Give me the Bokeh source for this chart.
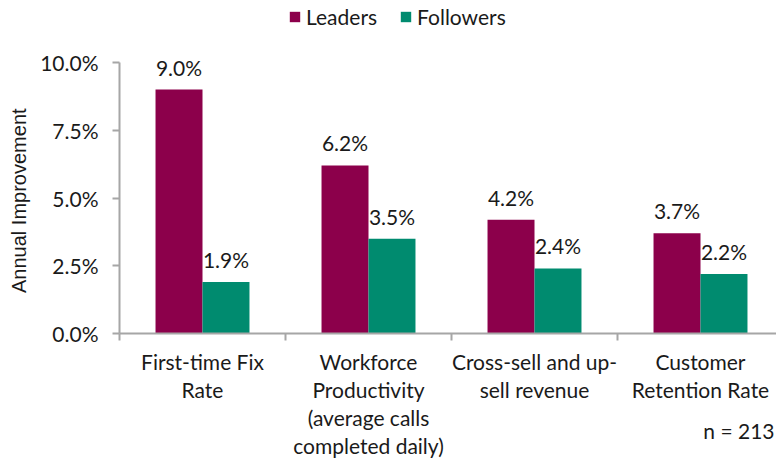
import numpy as np
from bokeh.plotting import figure
from bokeh.models import (Range1d, FixedTicker, PrintfTickFormatter, Legend, LegendItem,
                          ColumnDataSource, LabelSet, Label)
from bokeh.core.properties import value
from bokeh.embed import file_html
from bokeh.resources import INLINE

categories = ["First-time Fix\nRate",
              "Workforce\nProductivity\n(average calls\ncompleted daily)",
              "Cross-sell and up-\nsell revenue",
              "Customer\nRetention Rate"]
leaders = [9.0, 6.2, 4.2, 3.7]
followers = [1.9, 3.5, 2.4, 2.2]
y_ticks = [0, 2.5, 5.0, 7.5, 10.0]
y_title = "Annual Improvement"
note = "n = 213"

LEAD_C = "#8C004B"
FOLL_C = "#008B6F"
AXIS_C = "#A6A6A6"
TXT_C = "#1a1a1a"
FONT = "Lato"

W, H = 776, 460
LEFT = 119            # pixel column of the y axis
PX_X = 166.0          # pixels per category
PX_Y = 27.1           # pixels per percent
ZERO_Y = 333          # pixel row of 0%

x_start = -LEFT / PX_X
x_end = (W - LEFT) / PX_X
y_start = -(H - ZERO_Y) / PX_Y
y_end = ZERO_Y / PX_Y

p = figure(width=W, height=H, output_backend="svg", toolbar_location=None,
           x_range=Range1d(x_start, x_end), y_range=Range1d(y_start, y_end),
           min_border_left=0, min_border_right=0, min_border_top=0,
           min_border_bottom=0)
p.outline_line_color = None
p.xgrid.visible = False
p.ygrid.visible = False

n = len(categories)
centers = np.arange(n) + 0.5
bw = 0.283
src = ColumnDataSource(dict(
    xl=centers - bw / 2, xf=centers + bw / 2,
    lead=leaders, foll=followers,
    lead_t=["%.1f%%" % v for v in leaders],
    foll_t=["%.1f%%" % v for v in followers]))

r1 = p.vbar(x="xl", top="lead", width=bw, source=src, fill_color=LEAD_C, line_color=None)
r2 = p.vbar(x="xf", top="foll", width=bw, source=src, fill_color=FOLL_C, line_color=None)

for col, tcol in (("xl", "lead"), ("xf", "foll")):
    ls = LabelSet(x=col, y=tcol, text=tcol + "_t", source=src, text_align="center",
                  text_baseline="bottom", y_offset=10, text_font=value(FONT),
                  text_font_size="21px", text_color=TXT_C)
    p.add_layout(ls)

# x axis, drawn at y = 0
xa = p.xaxis[0]
xa.fixed_location = 0
xa.bounds = (0, n)
xa.ticker = FixedTicker(ticks=list(centers), minor_ticks=list(range(n + 1)))
xa.major_label_overrides = {float(c): cat for c, cat in zip(centers, categories)}
xa.major_tick_out = 0
xa.major_tick_in = 0
xa.minor_tick_out = 7
xa.minor_tick_in = 0
xa.minor_tick_line_color = AXIS_C
xa.minor_tick_line_width = 2
xa.axis_line_color = AXIS_C
xa.axis_line_width = 2
xa.major_label_text_font = FONT
xa.major_label_text_font_size = "21px"
xa.major_label_text_color = TXT_C
xa.major_label_text_line_height = 1.12
xa.major_label_standoff = 8

# y axis, drawn at x = 0
ya = p.yaxis[0]
ya.fixed_location = 0
ya.bounds = (0, 10)
ya.ticker = FixedTicker(ticks=y_ticks, minor_ticks=[])
ya.formatter = PrintfTickFormatter(format="%.1f%%")
ya.major_tick_out = 7
ya.major_tick_in = 0
ya.major_tick_line_color = AXIS_C
ya.major_tick_line_width = 2
ya.axis_line_color = AXIS_C
ya.axis_line_width = 2
ya.major_label_text_font = FONT
ya.major_label_text_font_size = "21px"
ya.major_label_text_color = TXT_C
ya.major_label_standoff = 14

p.add_layout(Label(x=x_start + 18 / PX_X, y=4.9, text=y_title, angle=np.pi / 2,
                   text_font="Liberation Sans", text_font_size="20px",
                   text_align="center", text_baseline="middle", text_color=TXT_C))

legend = Legend(items=[LegendItem(label="Leaders", renderers=[r1]),
                       LegendItem(label="Followers", renderers=[r2])],
                orientation="horizontal", location=(288, 431),
                glyph_width=13, glyph_height=13, label_standoff=5, spacing=22,
                padding=0, margin=0, border_line_color=None,
                background_fill_alpha=0,
                label_text_font=FONT, label_text_font_size="21px",
                label_text_color=TXT_C, label_height=24)
p.add_layout(legend, "center")

p.add_layout(Label(x=x_end, y=-3.58, x_offset=-2, text=note, text_font=FONT,
                   text_font_size="21px", text_align="right",
                   text_baseline="middle", text_color=TXT_C))

open("out.html", "w").write(file_html(p, INLINE))
